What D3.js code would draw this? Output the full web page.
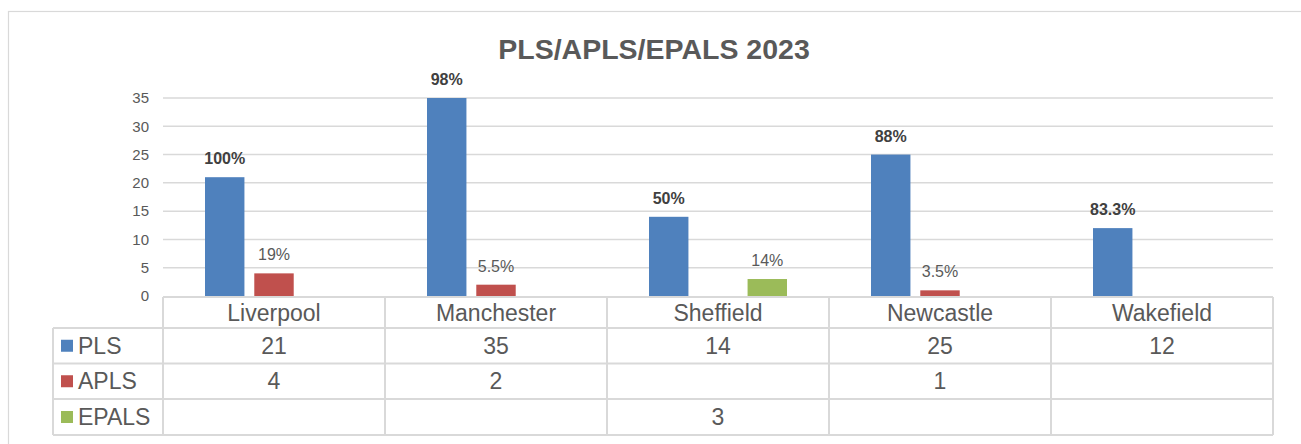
<!DOCTYPE html>
<html>
<head>
<meta charset="utf-8">
<script src="https://cdn.jsdelivr.net/npm/d3@7"></script>
<style>
  body { margin: 0; background: #fff; }
  svg { font-family: "Liberation Sans", Arial, sans-serif; }
</style>
</head>
<body>
<div id="chart"></div>
<script>
// chart data
const categories = ["Liverpool", "Manchester", "Sheffield", "Newcastle", "Wakefield"];
const seriesNames = ["PLS", "APLS", "EPALS"];
const plsValues = [21, 35, 14, 25, 12];
const aplsValues = [4, 2, null, 1, null];
const epalsValues = [null, null, 3, null, null];
const plsLabels = ["100%", "98%", "50%", "88%", "83.3%"];
const aplsLabels = ["19%", "5.5%", null, "3.5%", null];
const epalsLabels = [null, null, "14%", null, null];
const yTicks = [0, 5, 10, 15, 20, 25, 30, 35];
const colors = ["#4F81BD", "#C0504D", "#9BBB59"];

const seriesValues = [plsValues, aplsValues, epalsValues];
const seriesLabels = [plsLabels, aplsLabels, epalsLabels];

const width = 1301, height = 444;
const plot = {left: 163, right: 1273, top: 98, bottom: 296};
const legendLeft = 53;
const rowH = [31, 35.5, 35.5, 36];

const svg = d3.select("#chart").append("svg")
  .attr("width", width)
  .attr("height", height);

// outer chart border
svg.append("rect")
  .attr("x", 8.5).attr("y", 11.5)
  .attr("width", 1300).attr("height", 440)
  .attr("fill", "none")
  .attr("stroke", "#d9d9d9")
  .attr("stroke-width", 1.2);

svg.append("text")
  .attr("x", 654).attr("y", 59)
  .attr("text-anchor", "middle")
  .style("font-size", "28.5px")
  .style("font-weight", "bold")
  .style("fill", "#595959")
  .text("PLS/APLS/EPALS 2023");

const x0 = d3.scaleBand()
  .domain(categories)
  .range([plot.left, plot.right]);

const x1 = d3.scaleBand()
  .domain(seriesNames)
  .range([42, 180])
  .paddingInner(0.2);

const y = d3.scaleLinear()
  .domain([0, 35])
  .range([plot.bottom, plot.top]);

// gridlines
svg.append("g")
  .selectAll("line")
  .data(yTicks.filter(d => d > 0))
  .join("line")
    .attr("x1", plot.left).attr("x2", plot.right)
    .attr("y1", d => y(d)).attr("y2", d => y(d))
    .attr("stroke", "#d9d9d9")
    .attr("stroke-width", 1.5);

// y axis labels
const yAxis = svg.append("g")
  .attr("transform", `translate(${plot.left},0)`)
  .call(d3.axisLeft(y).tickValues(yTicks).tickSize(0).tickPadding(14));
yAxis.select(".domain").remove();
yAxis.selectAll("text")
  .style("font-size", "15px")
  .style("font-family", "'Liberation Sans', Arial, sans-serif")
  .attr("fill", "#595959");

// bars
const barData = [];
categories.forEach((c, i) => {
  seriesNames.forEach((s, j) => {
    if (seriesValues[j][i] != null) {
      barData.push({cat: c, series: s, idx: j, value: seriesValues[j][i], label: seriesLabels[j][i]});
    }
  });
});

svg.append("g")
  .selectAll("rect")
  .data(barData)
  .join("rect")
    .attr("x", d => x0(d.cat) + x1(d.series))
    .attr("y", d => y(d.value))
    .attr("width", x1.bandwidth())
    .attr("height", d => y(0) - y(d.value))
    .attr("fill", d => colors[d.idx]);

svg.append("g")
  .selectAll("text")
  .data(barData.filter(d => d.label))
  .join("text")
    .attr("x", d => x0(d.cat) + x1(d.series) + x1.bandwidth() / 2)
    .attr("y", d => y(d.value) - 13)
    .attr("text-anchor", "middle")
    .style("font-size", "16px")
    .style("font-weight", d => d.idx === 0 ? "bold" : "normal")
    .style("fill", d => d.idx === 0 ? "#404040" : "#595959")
    .text(d => d.label);

// data table
const table = svg.append("g");
const rowTops = [plot.bottom + 1];
rowH.forEach((h, i) => rowTops.push(rowTops[i] + h));
const tableBottom = rowTops[rowTops.length - 1];
const gridColor = "#d9d9d9";

// horizontal lines
rowTops.forEach((t, i) => {
  table.append("line")
    .attr("x1", i === 0 ? plot.left : legendLeft)
    .attr("x2", plot.right)
    .attr("y1", t).attr("y2", t)
    .attr("stroke", gridColor).attr("stroke-width", 2);
});
// vertical lines
const vx = categories.map(c => x0(c)).concat([plot.right]);
vx.forEach(v => {
  table.append("line")
    .attr("x1", v).attr("x2", v)
    .attr("y1", rowTops[0]).attr("y2", tableBottom)
    .attr("stroke", gridColor).attr("stroke-width", 2);
});
table.append("line")
  .attr("x1", legendLeft).attr("x2", legendLeft)
  .attr("y1", rowTops[1]).attr("y2", tableBottom)
  .attr("stroke", gridColor).attr("stroke-width", 2);

// category header
table.selectAll(".cat")
  .data(categories)
  .join("text")
    .attr("class", "cat")
    .attr("x", d => x0(d) + x0.bandwidth() / 2)
    .attr("y", (rowTops[0] + rowTops[1]) / 2 + 8)
    .attr("text-anchor", "middle")
    .style("font-size", "23px")
    .style("fill", "#595959")
    .text(d => d);

// legend keys and values
seriesNames.forEach((s, j) => {
  const cy = (rowTops[j + 1] + rowTops[j + 2]) / 2;
  table.append("rect")
    .attr("x", 61).attr("y", cy - 6)
    .attr("width", 12).attr("height", 12)
    .attr("fill", colors[j]);
  table.append("text")
    .attr("x", 78).attr("y", cy + 8)
    .style("font-size", "23px")
    .style("fill", "#595959")
    .text(s);
  table.selectAll(".v" + j)
    .data(categories.map((c, i) => ({cat: c, v: seriesValues[j][i]})).filter(d => d.v != null))
    .join("text")
      .attr("x", d => x0(d.cat) + x0.bandwidth() / 2)
      .attr("y", cy + 8)
      .attr("text-anchor", "middle")
      .style("font-size", "23px")
      .style("fill", "#595959")
      .text(d => d.v);
});
</script>
</body>
</html>
